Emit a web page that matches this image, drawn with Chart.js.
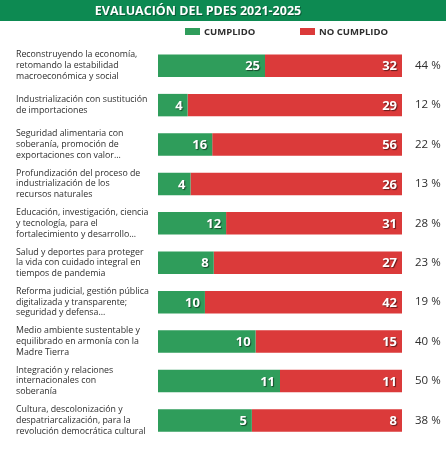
<!DOCTYPE html>
<html>
<head>
<meta charset="utf-8">
<script src="https://cdn.jsdelivr.net/npm/chart.js@4"></script>
<style>
  html, body { margin: 0; padding: 0; background: #fff; }
  #wrap { width: 446px; height: 460px; position: relative; }
</style>
</head>
<body>
<div id="wrap"><canvas id="pdesBar"></canvas></div>
<script>
// chart title
const chartTitle = 'EVALUACIÓN DEL PDES 2021-2025';

// category labels, one array of lines per row
const categories = [
  ['Reconstruyendo la economía,', 'retomando la estabilidad', 'macroeconómica y social'],
  ['Industrialización con sustitución', 'de importaciones'],
  ['Seguridad alimentaria con', 'soberanía, promoción de', 'exportaciones con valor...'],
  ['Profundización del proceso de', 'industrialización de los', 'recursos naturales'],
  ['Educación, investigación, ciencia', 'y tecnología, para el', 'fortalecimiento y desarrollo...'],
  ['Salud y deportes para proteger', 'la vida con cuidado integral en', 'tiempos de pandemia'],
  ['Reforma judicial, gestión pública', 'digitalizada y transparente;', 'seguridad y defensa...'],
  ['Medio ambiente sustentable y', 'equilibrado en armonía con la', 'Madre Tierra'],
  ['Integración y relaciones', 'internacionales con', 'soberanía'],
  ['Cultura, descolonización y', 'despatriarcalización, para la', 'revolución democrática cultural']
];

// counts per row
const cumplido   = [25, 4, 16, 4, 12, 8, 10, 10, 11, 5];
const noCumplido = [32, 29, 56, 26, 31, 27, 42, 15, 11, 8];

// percentage shown on the right
const pctLabels = ['44 %', '12 %', '22 %', '13 %', '28 %', '23 %', '19 %', '40 %', '50 %', '38 %'];

const seriesNames = ['CUMPLIDO', 'NO CUMPLIDO'];
const seriesColors = ['#2f9d5b', '#db3a3a'];

// each bar is shown as a share of its row total
const shareOf = (a, b) => a.map((v, i) => v / (a[i] + b[i]) * 100);

const fontFam = '"Open Sans", sans-serif';

// draws the green title band and the legend row
const headerPlugin = {
  id: 'header',
  beforeDraw(chart) {
    const c = chart.ctx;
    c.save();
    c.fillStyle = '#0d8a52';
    c.fillRect(0, 0, chart.width, 21);
    c.font = 'bold 12.5px ' + fontFam;
    c.fillStyle = '#fff';
    c.textAlign = 'center';
    c.textBaseline = 'middle';
    c.shadowColor = 'rgba(0,0,0,0.35)';
    c.shadowOffsetX = 1;
    c.shadowOffsetY = 1;
    c.fillText(chartTitle, 198, 11);
    c.shadowColor = 'transparent';

    // legend
    const legendX = [185, 300];
    c.font = 'bold 9.5px ' + fontFam;
    c.textAlign = 'left';
    seriesNames.forEach((name, i) => {
      c.fillStyle = seriesColors[i];
      c.fillRect(legendX[i], 28, 15, 7);
      c.fillStyle = '#2e2e2e';
      c.fillText(name, legendX[i] + 19, 32);
    });
    c.restore();
  }
};

// draws the counts inside each segment
const valuePlugin = {
  id: 'values',
  afterDatasetsDraw(chart) {
    const c = chart.ctx;
    const counts = [cumplido, noCumplido];
    c.save();
    c.font = 'bold 13px ' + fontFam;
    c.textAlign = 'right';
    c.textBaseline = 'middle';
    c.shadowColor = 'rgba(0,0,0,0.55)';
    c.shadowOffsetX = 1;
    c.shadowOffsetY = 1;
    c.shadowBlur = 1;
    c.fillStyle = '#fff';
    chart.data.datasets.forEach((ds, d) => {
      chart.getDatasetMeta(d).data.forEach((bar, i) => {
        c.fillText(counts[d][i], bar.x - 5, bar.y + 1);
      });
    });
    c.restore();
  }
};

const ctx = document.getElementById('pdesBar');

const barChart = new Chart(ctx, {
  type: 'bar',
  data: {
    labels: categories,
    datasets: [
      { label: seriesNames[0], data: shareOf(cumplido, noCumplido), backgroundColor: seriesColors[0] },
      { label: seriesNames[1], data: shareOf(noCumplido, cumplido), backgroundColor: seriesColors[1] }
    ]
  },
  plugins: [headerPlugin, valuePlugin],
  options: {
    indexAxis: 'y',
    responsive: true,
    maintainAspectRatio: false,
    animation: false,
    datasets: { bar: { categoryPercentage: 1, barPercentage: 0.57 } },
    layout: { padding: { left: 16, right: 0, top: 46, bottom: 6 } },
    plugins: {
      legend: { display: false },
      title: { display: false },
      tooltip: { enabled: false }
    },
    scales: {
      x: { stacked: true, min: 0, max: 100, display: false },
      y: {
        stacked: true,
        grid: { display: false, drawTicks: false },
        border: { display: false },
        afterFit(scale) { scale.width = 142; },
        ticks: {
          crossAlign: 'far',
          padding: 0,
          color: '#2e2e2e',
          font: { family: fontFam, size: 8.8, lineHeight: 1.22 }
        }
      },
      pct: {
        type: 'category',
        position: 'right',
        labels: pctLabels,
        grid: { display: false, drawTicks: false },
        border: { display: false },
        afterFit(scale) { scale.width = 44; },
        ticks: {
          padding: 13,
          color: '#2e2e2e',
          font: { family: fontFam, size: 11.5 }
        }
      }
    }
  }
});
</script>
</body>
</html>
